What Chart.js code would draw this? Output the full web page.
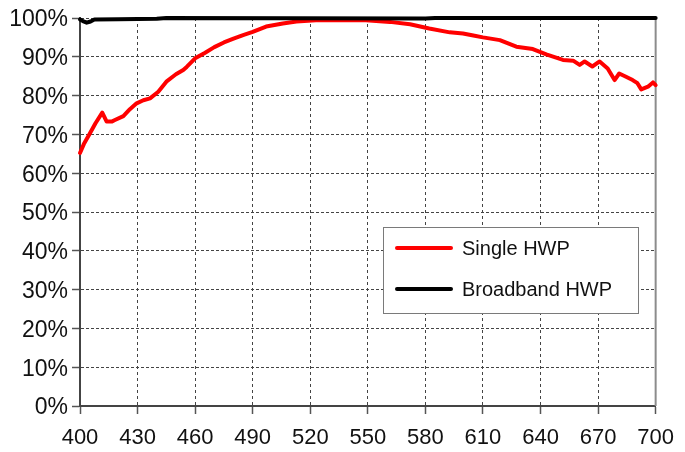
<!DOCTYPE html>
<html>
<head>
<meta charset="utf-8">
<script src="https://cdn.jsdelivr.net/npm/chart.js@4.4.1/dist/chart.umd.min.js"></script>
<style>
  body { margin: 0; background: #fff; }
  #wrap { width: 685px; height: 452px; }
</style>
</head>
<body>
<div id="wrap"><canvas id="myChart" width="685" height="452"></canvas></div>
<script>
// wavelength (nm) and efficiency (%) for each retarder
const singleNm = [400, 402, 405.2, 408, 411.6, 413.9, 416.5, 418.2, 422.6, 426, 429.5, 433, 436.5, 440.8,
  445, 450, 453.8, 455.6, 460, 465, 470, 475, 480, 485, 490, 497, 505.7, 512.8, 523, 535, 549, 561.5,
  572, 582, 592.7, 599.6, 605, 610, 618.8, 627.4, 636, 643, 651.7, 657, 660.4, 663, 667, 670.8, 675,
  678.6, 681, 684, 688, 690.5, 692.5, 696, 698.6, 700];
const singleVal = [65.2, 67.5, 70.3, 72.8, 75.6, 73.3, 73.3, 73.7, 74.7, 76.5, 78.0, 78.8, 79.3, 81.0,
  83.6, 85.5, 86.6, 87.4, 89.6, 91.0, 92.5, 93.7, 94.7, 95.6, 96.4, 97.8, 98.6, 99.1, 99.4, 99.5, 99.4, 99.0,
  98.4, 97.3, 96.3, 96.0, 95.5, 95.0, 94.3, 92.6, 92.0, 90.6, 89.2, 89.0, 87.9, 88.8, 87.5, 88.8, 87.0,
  84.0, 85.7, 85.0, 84.0, 83.2, 81.6, 82.3, 83.4, 82.7];

const broadNm = [400, 401.5, 403.5, 405.5, 407.5, 420, 440, 445, 580, 585, 700];
const broadVal = [99.6, 99.2, 98.8, 99.1, 99.6, 99.7, 99.8, 100, 99.9, 100, 100];

const xTickMin = 400, xTickMax = 700, xTickStep = 30;
const yTickMin = 0, yTickMax = 100, yTickStep = 10;

const toPoints = (xs, ys) => xs.map((x, i) => ({ x: x, y: ys[i] }));

const family = "'Liberation Sans', Arial, sans-serif";

// frame on the right side of the plot
const rightEdge = {
  id: "rightEdge",
  beforeDatasetsDraw(chart) {
    const { ctx, chartArea } = chart;
    ctx.save();
    ctx.strokeStyle = "#8c8c8c";
    ctx.lineWidth = 2;
    ctx.beginPath();
    ctx.moveTo(chartArea.right, chartArea.top);
    ctx.lineTo(chartArea.right, chartArea.bottom);
    ctx.stroke();
    ctx.restore();
  },
};

// boxed legend inside the plot
const boxLegend = {
  id: "boxLegend",
  afterDatasetsDraw(chart) {
    const { ctx } = chart;
    const left = 383, top = 227, w = 255, h = 86;
    ctx.save();
    ctx.fillStyle = "#fff";
    ctx.fillRect(left, top, w, h);
    ctx.strokeStyle = "#7a7a7a";
    ctx.lineWidth = 1;
    ctx.strokeRect(left + 0.5, top + 0.5, w, h);
    ctx.font = "20px " + family;
    ctx.textBaseline = "middle";
    chart.data.datasets.forEach((ds, i) => {
      const y = top + 21 + i * 41;
      ctx.strokeStyle = ds.borderColor;
      ctx.lineWidth = 4;
      ctx.lineCap = "round";
      ctx.beginPath();
      ctx.moveTo(left + 14, y);
      ctx.lineTo(left + 68, y);
      ctx.stroke();
      ctx.fillStyle = "#111";
      ctx.fillText(ds.label, left + 79, y + 1);
    });
    ctx.restore();
  },
};

const ctx = document.getElementById("myChart").getContext("2d");
const myChart = new Chart(ctx, {
  type: "line",
  data: {
    datasets: [
      {
        label: "Single HWP",
        data: toPoints(singleNm, singleVal),
        borderColor: "#ff0000",
        borderWidth: 4,
        order: 2,
      },
      {
        label: "Broadband HWP",
        data: toPoints(broadNm, broadVal),
        borderColor: "#000000",
        borderWidth: 4,
        order: 1,
      },
    ],
  },
  options: {
    responsive: false,
    animation: false,
    layout: { padding: { left: 0, right: 29, top: 18, bottom: 0 } },
    elements: {
      point: { radius: 0 },
      line: { tension: 0, borderJoinStyle: "round", borderCapStyle: "round" },
    },
    datasets: { line: { clip: false } },
    plugins: { legend: { display: false }, tooltip: { enabled: false } },
    scales: {
      x: {
        type: "linear",
        min: xTickMin,
        max: xTickMax,
        afterFit: (scale) => { scale.height = 46; },
        ticks: { stepSize: xTickStep, color: "#111", font: { family: family, size: 22 }, padding: 11, maxRotation: 0 },
        grid: { color: "#444", lineWidth: 1, tickLength: 8, tickColor: "#555", tickWidth: 1.5 },
        border: { color: "#444", width: 2, dash: [3, 3] },
      },
      y: {
        min: yTickMin,
        max: yTickMax,
        afterFit: (scale) => { scale.width = 80; },
        ticks: {
          stepSize: yTickStep,
          color: "#111",
          font: { family: family, size: 23 },
          padding: 4,
          labelOffset: 2,
          callback: (v) => v + "%",
        },
        grid: { color: "#444", lineWidth: 1, tickLength: 8, tickColor: "#555", tickWidth: 1.5 },
        border: { color: "#444", width: 2, dash: [3, 2] },
      },
    },
  },
  plugins: [rightEdge, boxLegend],
});
</script>
</body>
</html>
